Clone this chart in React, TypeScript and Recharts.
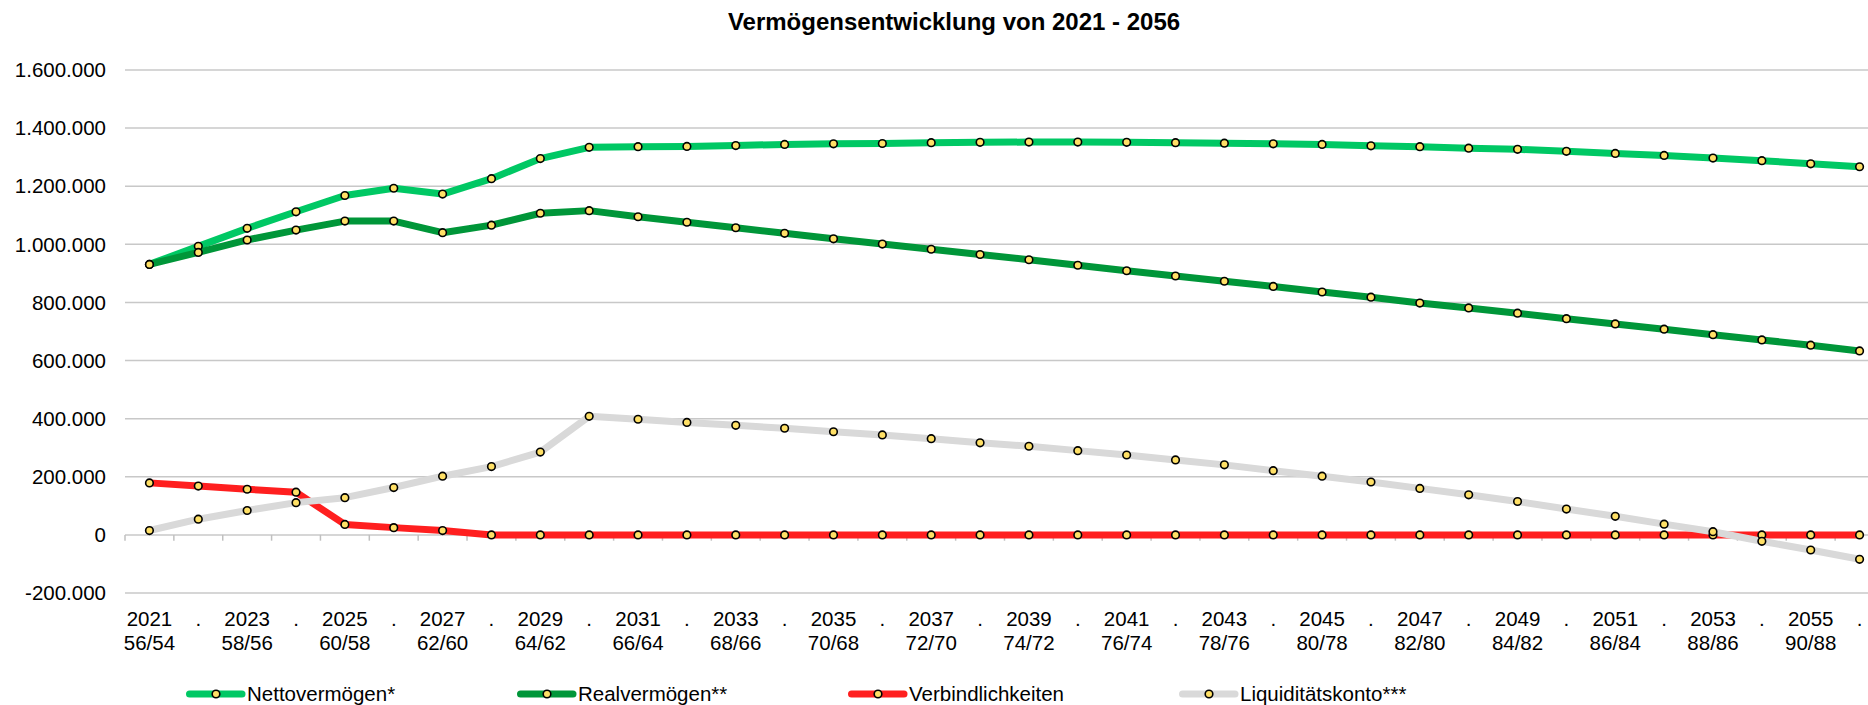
import { LineChart, Line, XAxis, YAxis, CartesianGrid, ReferenceLine, Legend } from 'recharts'

const years = [
  '2021', '2022', '2023', '2024', '2025', '2026', '2027', '2028', '2029', '2030', '2031', '2032',
  '2033', '2034', '2035', '2036', '2037', '2038', '2039', '2040', '2041', '2042', '2043', '2044',
  '2045', '2046', '2047', '2048', '2049', '2050', '2051', '2052', '2053', '2054', '2055', '2056',
]
// second label line, only under every other year
const ageLabels = [
  '56/54', '58/56', '60/58', '62/60', '64/62', '66/64', '68/66', '70/68', '72/70',
  '74/72', '76/74', '78/76', '80/78', '82/80', '84/82', '86/84', '88/86', '90/88',
]

const nettovermoegen = [
  931000, 993000, 1055000, 1112000, 1168000, 1193000, 1173000, 1226000, 1295000, 1334000, 1336000, 1337000,
  1340000, 1344000, 1346000, 1347000, 1350000, 1351000, 1352000, 1352000, 1351000, 1350000, 1348000, 1346000,
  1344000, 1339000, 1336000, 1331000, 1327000, 1320000, 1313000, 1306000, 1297000, 1288000, 1277000, 1267000,
]
const realvermoegen = [
  931000, 972000, 1015000, 1049000, 1080000, 1080000, 1040000, 1066000, 1107000, 1116000, 1095000, 1076000,
  1057000, 1038000, 1019000, 1001000, 983000, 965000, 947000, 928000, 909000, 891000, 873000, 855000,
  836000, 818000, 798000, 781000, 763000, 744000, 726000, 708000, 689000, 671000, 653000, 633000,
]
const verbindlichkeiten = [
  179000, 168000, 157000, 147000, 36000, 25000, 15000, 0, 0, 0, 0, 0,
  0, 0, 0, 0, 0, 0, 0, 0, 0, 0, 0, 0,
  0, 0, 0, 0, 0, 0, 0, 0, 0, 0, 0, 0,
]
const liquiditaet = [
  15000, 54000, 84000, 111000, 128000, 163000, 202000, 235000, 285000, 408000, 398000, 387000,
  377000, 367000, 355000, 344000, 331000, 317000, 305000, 290000, 275000, 258000, 241000, 221000,
  202000, 182000, 160000, 138000, 115000, 89000, 64000, 37000, 11000, -22000, -52000, -84000,
]

const yTicks = [-200000, 0, 200000, 400000, 600000, 800000, 1000000, 1200000, 1400000, 1600000]

const SERIES = [
  { key: 'netto', name: 'Nettovermögen*', color: '#00C864' },
  { key: 'real', name: 'Realvermögen**', color: '#009639' },
  { key: 'verb', name: 'Verbindlichkeiten', color: '#FF1F1F' },
  { key: 'liq', name: 'Liquiditätskonto***', color: '#D9D9D9' },
]

const data = years.map((year, i) => ({
  x: i,
  year,
  netto: nettovermoegen[i],
  real: realvermoegen[i],
  verb: verbindlichkeiten[i],
  liq: liquiditaet[i],
}))

const FONT = '"Liberation Sans", Arial, sans-serif'
const MARKER = '#FFE066'
const TICK_LEN = 20000 // small tick marks below the zero line, in value units

const fmt = (v: number) => (v < 0 ? '-' : '') + String(Math.abs(v)).replace(/\B(?=(\d{3})+(?!\d))/g, '.')

function XTick({ x, y, payload }: any) {
  const i = Number(payload.value)
  const even = i % 2 === 0
  return (
    <g>
      <text x={x} y={y + 33} textAnchor="middle" fontSize={20.5} fontFamily={FONT} fill="#000">
        {even ? years[i] : '.'}
      </text>
      {even && (
        <text x={x} y={y + 57} textAnchor="middle" fontSize={20.5} fontFamily={FONT} fill="#000">
          {ageLabels[i / 2]}
        </text>
      )}
    </g>
  )
}

function LegendContent() {
  return (
    <div style={{ height: 28, boxSizing: 'border-box', paddingTop: 5, paddingLeft: 186, display: 'flex' }}>
      {SERIES.map(s => (
        <div key={s.key} style={{ width: 331, height: 24, display: 'flex', alignItems: 'center' }}>
          <svg width={61} height={24} style={{ flex: 'none' }}>
            <line x1={3.5} y1={12} x2={56} y2={12} stroke={s.color} strokeWidth={7} strokeLinecap="round" />
            <circle cx={30} cy={12} r={3.8} fill={MARKER} stroke="#000" strokeWidth={1.6} />
          </svg>
          <span style={{ fontFamily: FONT, fontSize: 20.5, lineHeight: '24px', color: '#000', whiteSpace: 'nowrap' }}>
            {s.name}
          </span>
        </div>
      ))}
    </div>
  )
}

export default function App() {
  return (
    <div style={{ position: 'absolute', left: 0, top: 0, width: 1868, height: 705, overflow: 'hidden', background: '#fff' }}>
      <LineChart width={1900} height={705} data={data} margin={{ top: 70, right: 16, bottom: 0, left: 0 }}>
        <CartesianGrid horizontal vertical={false} stroke="#C8C8C8" strokeWidth={1.5} />
        <XAxis
          dataKey="x"
          type="number"
          domain={[-0.5, 35.5]}
          ticks={years.map((_, i) => i)}
          interval={0}
          axisLine={false}
          tickLine={false}
          tickSize={0}
          tickMargin={0}
          height={84}
          tick={<XTick />}
        />
        <YAxis
          domain={[-200000, 1600000]}
          ticks={yTicks}
          interval={0}
          width={125}
          axisLine={false}
          tickLine={false}
          tickSize={0}
          tickMargin={19}
          tickFormatter={fmt}
          tick={{ fontSize: 20.5, fill: '#000', fontFamily: FONT }}
        />
        {years.concat(['']).map((_, i) => (
          <ReferenceLine
            key={'t' + i}
            segment={[{ x: i - 0.5, y: 0 }, { x: i - 0.5, y: -TICK_LEN }]}
            stroke="#C0C0C0"
            strokeWidth={1.5}
          />
        ))}
        <Legend verticalAlign="bottom" content={<LegendContent />} />
        {SERIES.map(s => (
          <Line
            key={s.key}
            dataKey={s.key}
            name={s.name}
            type="linear"
            stroke={s.color}
            strokeWidth={7}
            strokeLinejoin="round"
            strokeLinecap="round"
            dot={{ r: 3.8, fill: MARKER, stroke: '#000', strokeWidth: 1.6 }}
            activeDot={false}
            isAnimationActive={false}
          />
        ))}
      </LineChart>
      <div
        style={{
          position: 'absolute', top: 8, left: 0, width: 1908, textAlign: 'center',
          fontFamily: FONT, fontSize: 24, fontWeight: 'bold', lineHeight: '28px', color: '#000',
        }}
      >
        Vermögensentwicklung von 2021 - 2056
      </div>
    </div>
  )
}
